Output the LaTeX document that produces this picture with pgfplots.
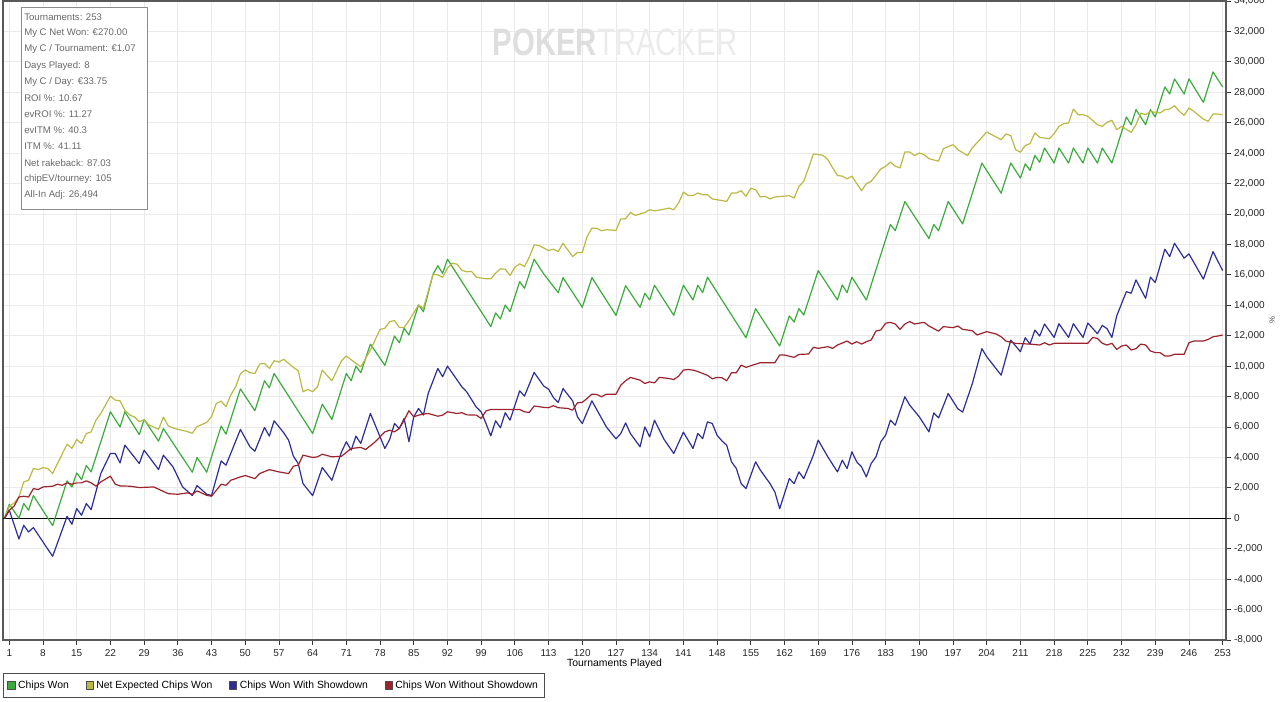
\documentclass[border=0pt]{standalone}
\usepackage{pgfplots}
\pgfplotsset{compat=1.18}
\usepackage{pgfplotstable}
\usepackage{fontspec}
\setmainfont{Liberation Sans}
\definecolor{cG}{RGB}{60,170,60}
\definecolor{cY}{RGB}{185,185,70}
\definecolor{cB}{RGB}{45,45,150}
\definecolor{cR}{RGB}{155,35,45}
\definecolor{gridc}{RGB}{234,234,234}
\definecolor{txtg}{RGB}{105,105,105}

\pgfplotstableread{
t v
0 0
1 0.92
3 0.0
4 0.97
5 0.53
6 1.49
10 -0.48
13 2.46
14 2.06
15 2.98
16 2.55
17 3.47
18 3.05
22 7.0
24 6.0
25 7.0
28 5.5
29 6.5
32 5.07
33 5.9
39 3.03
40 4.0
42 3.03
45 6.06
46 5.53
49 8.5
52 7.07
54 9.04
55 8.58
56 9.52
64 5.57
66 7.5
68 6.5
71 9.52
72 9.04
73 10.0
74 9.57
76 11.45
79 10.05
81 11.98
82 11.54
83 12.49
84 12.05
86 14.02
87 13.58
89 16.04
90 16.6
91 16.1
92 17.03
101 12.6
102 13.5
103 13.1
104 14.02
105 13.58
107 15.56
108 15.12
110 17.03
112 16.06
115 14.83
116 15.82
120 13.87
122 15.82
127 13.34
129 15.29
132 13.87
133 14.79
134 14.35
135 15.32
139 13.34
141 15.32
143 14.35
144 15.32
145 14.83
146 15.85
154 11.87
156 13.78
161 11.32
163 13.3
164 12.9
165 13.78
166 13.36
169 16.28
173 14.35
174 15.34
175 14.83
176 15.85
179 14.35
184 19.31
185 18.9
187 20.82
192 18.39
193 19.31
194 18.9
196 20.82
199 19.35
203 23.35
207 21.37
209 23.35
211 22.36
212 23.3
213 22.87
214 23.85
215 23.4
216 24.34
218 23.35
219 24.34
221 23.35
222 24.34
224 23.35
225 24.34
227 23.35
228 24.34
230 23.35
233 26.38
234 25.87
235 26.86
237 25.87
238 26.86
239 26.38
241 28.35
242 27.89
243 28.88
245 27.89
246 28.88
249 27.34
251 29.34
253 28.35
}\chipsWon

\pgfplotstableread{
t v
0 0
1 0.8
2 1.0
3 1.4
4 2.39
5 2.5
6 3.27
7 3.2
8 3.33
9 3.27
10 2.94
11 3.6
13 4.87
14 4.6
15 5.18
16 4.92
17 5.57
18 5.68
19 6.45
20 6.89
22 8.03
23 7.77
24 7.72
25 7.1
26 6.8
27 6.65
28 6.36
29 6.47
30 6.14
32 5.85
33 6.65
34 6.08
35 5.94
36 5.85
38 5.7
39 5.59
40 6.03
42 6.3
43 6.69
44 7.55
45 7.7
46 7.33
47 8.1
48 8.64
49 9.5
50 9.75
51 9.57
52 9.52
53 10.14
54 10.18
55 9.85
56 10.36
57 10.27
58 10.45
60 9.92
61 9.7
62 8.32
63 8.47
64 8.32
65 8.64
66 9.74
68 9.04
70 10.36
71 10.67
73 10.18
74 9.96
76 11.06
78 12.42
79 12.49
80 12.93
81 12.99
82 12.55
83 12.55
84 12.99
86 14.02
87 13.8
89 16.04
90 16.0
91 15.84
92 16.44
93 16.77
94 16.7
95 16.3
96 16.2
97 16.23
98 15.85
100 15.74
101 15.74
102 16.11
103 16.4
104 16.37
105 15.96
106 16.5
107 16.73
108 16.55
109 17.16
110 17.97
111 17.93
113 17.6
114 17.69
115 17.53
116 18.08
118 17.2
119 17.47
120 17.47
121 18.52
122 19.07
123 19.07
124 18.9
125 18.97
127 18.92
128 19.67
129 19.69
130 20.1
131 19.91
133 20.1
134 20.28
135 20.21
137 20.32
138 20.39
139 20.28
140 20.72
141 21.44
142 21.22
143 21.22
144 21.38
145 21.27
146 21.27
147 20.99
150 20.83
151 21.38
152 21.38
153 21.53
154 21.16
155 21.69
156 21.6
157 21.12
158 21.16
159 20.99
160 21.12
163 21.2
164 21.05
165 21.82
166 22.15
167 23.03
168 23.95
170 23.86
171 23.58
172 23.03
173 22.53
174 22.49
175 22.31
176 22.49
178 21.53
179 21.99
180 22.15
182 22.96
183 23.14
184 23.42
185 23.14
186 23.03
187 24.08
188 24.08
189 23.84
190 24.01
191 23.9
192 23.64
194 23.47
195 24.3
197 24.56
198 24.23
200 23.84
201 24.34
204 25.39
207 24.89
208 25.26
209 25.15
210 24.23
211 24.06
212 24.5
213 24.63
214 25.33
215 25.04
217 24.95
218 25.28
219 25.76
220 25.94
221 25.98
222 26.9
223 26.53
224 26.53
225 26.42
227 25.87
228 25.76
229 26.03
230 26.16
231 25.54
232 25.76
234 25.37
235 25.87
236 26.64
237 26.53
238 26.75
239 26.68
240 26.64
241 26.86
242 26.9
243 27.12
244 26.75
245 26.49
246 26.97
247 26.75
249 26.24
250 26.09
251 26.57
252 26.57
253 26.53
}\netExpected

\pgfplotstableread{
t v
0 0
1 0.53
3 -1.36
4 -0.46
5 -0.9
6 -0.61
8 -1.56
10 -2.5
13 0.13
14 -0.39
15 0.64
16 0.2
17 0.97
18 0.57
20 2.94
22 4.26
23 4.26
24 3.64
25 4.81
28 3.6
29 4.48
32 3.2
33 4.15
35 3.38
37 2.06
39 1.5
40 2.15
42 1.58
43 1.5
45 3.77
46 3.49
49 5.84
51 4.69
52 4.41
54 5.97
55 5.4
56 6.41
58 5.62
59 5.14
60 4.08
61 3.6
62 2.28
64 1.49
66 3.34
68 2.5
70 4.37
71 5.03
72 4.48
73 5.4
74 4.92
76 6.89
79 4.59
80 5.18
81 6.23
82 5.9
83 6.56
84 5.03
85 6.67
86 7.22
87 6.78
88 8.21
90 9.85
91 9.3
92 10.0
95 8.64
96 8.31
98 7.3
99 7.0
100 6.23
101 5.42
102 6.41
103 5.95
104 6.94
105 6.45
107 8.38
108 8.03
110 9.59
112 8.69
113 8.49
114 7.94
115 7.61
116 8.53
118 7.72
119 6.67
120 6.23
122 7.72
125 6.01
127 5.22
128 5.57
129 6.27
130 5.57
132 4.7
133 6.01
134 5.35
135 6.45
137 5.18
139 4.26
141 5.66
143 4.59
144 5.57
145 5.24
146 6.34
147 6.23
148 5.46
149 5.09
150 4.8
151 3.71
152 3.27
153 2.28
154 1.95
156 3.71
157 3.16
159 2.28
160 1.73
161 0.63
163 2.61
164 2.28
165 3.05
166 2.61
168 4.15
169 5.14
171 4.04
173 3.05
174 3.82
175 3.27
176 4.37
177 3.71
178 3.38
179 2.72
180 3.6
181 4.04
182 5.03
183 5.46
184 6.45
185 6.12
187 7.99
188 7.44
190 6.67
192 5.68
193 6.93
194 6.6
196 8.2
198 7.2
199 6.98
201 8.84
203 11.15
204 10.62
207 9.41
209 11.71
211 10.95
212 11.87
213 11.45
214 12.37
215 11.98
216 12.77
218 11.89
219 12.79
221 11.89
222 12.79
224 11.89
225 12.84
227 12.13
228 12.68
229 12.46
230 11.89
231 13.3
233 14.9
234 14.79
235 15.67
237 14.46
238 15.85
239 15.5
241 17.69
242 17.2
243 18.08
245 17.1
246 17.38
249 15.72
251 17.53
253 16.28
}\withSD

\pgfplotstableread{
t v
0 0
1 0.53
2 0.8
3 1.4
4 1.45
5 1.4
6 1.95
7 1.89
8 2.06
10 2.11
11 2.24
12 2.17
13 2.33
14 2.24
15 2.33
16 2.33
17 2.46
18 2.33
19 2.11
20 2.39
22 2.77
23 2.24
24 2.13
26 2.11
28 2.02
31 2.06
34 1.62
36 1.58
38 1.67
39 1.58
40 1.8
42 1.51
43 1.45
45 2.24
46 2.17
47 2.5
49 2.72
50 2.81
52 2.61
53 2.94
55 3.2
57 3.05
59 2.94
60 3.42
61 3.49
62 4.15
64 4.0
65 4.04
66 4.21
68 4.04
70 4.08
72 4.59
74 4.66
75 4.52
77 5.03
79 5.68
80 5.79
81 5.68
82 5.9
83 6.45
84 7.07
85 6.67
86 6.78
87 6.85
88 6.89
90 6.71
91 6.78
92 7.0
94 6.89
95 6.94
96 6.8
98 6.78
99 6.56
100 7.06
101 7.15
107 7.15
108 7.0
109 6.96
110 7.38
112 7.29
113 7.27
114 7.4
115 7.27
117 7.22
118 7.11
119 7.59
120 7.62
121 7.88
122 8.16
123 8.14
124 7.99
125 8.16
127 8.16
128 8.75
129 9.04
130 9.26
132 9.08
133 8.86
134 8.97
135 8.9
136 9.26
138 9.19
139 9.12
140 9.34
141 9.74
142 9.78
143 9.74
144 9.65
145 9.52
146 9.4
147 9.17
148 9.26
149 9.24
150 9.04
151 9.57
152 9.57
153 10.07
154 9.92
155 10.03
157 10.23
160 10.23
161 10.73
162 10.73
164 10.58
165 10.77
167 10.8
168 11.24
169 11.17
171 11.28
172 11.17
173 11.39
175 11.65
176 11.45
177 11.61
178 11.45
179 11.61
180 11.72
181 12.31
182 12.38
183 12.82
184 12.88
185 12.77
186 12.42
187 12.77
188 12.93
189 12.77
191 12.88
192 12.64
194 12.3
195 12.6
197 12.53
198 12.64
199 12.42
201 12.33
202 12.05
204 12.27
206 12.11
207 11.93
208 11.65
210 11.5
213 11.45
215 11.39
216 11.54
217 11.39
218 11.5
225 11.5
226 11.89
227 11.82
228 11.5
229 11.39
230 11.5
231 11.1
232 11.32
233 11.39
234 11.06
235 11.15
236 11.45
237 11.39
238 11.0
239 10.89
240 10.89
241 10.67
242 10.67
243 10.78
245 10.78
246 11.54
247 11.65
249 11.65
250 11.76
251 11.93
252 11.98
253 12.05
}\withoutSD

\begin{document}
\begin{tikzpicture}
\useasboundingbox (0pt,0pt) rectangle (960pt,-525.75pt);
\begin{axis}[
  at={(2.25pt,-480pt)}, anchor=south west,
  scale only axis, width=917.25pt, height=479.25pt,
  xmin=-0.31, xmax=253.7, ymin=-8, ymax=34,
  xtick={1,8,...,253},
  ytick={-8,-6,...,34},
  yticklabels={{-8,000},{-6,000},{-4,000},{-2,000},{0},{2,000},{4,000},{6,000},{8,000},{10,000},{12,000},{14,000},{16,000},{18,000},{20,000},{22,000},{24,000},{26,000},{28,000},{30,000},{32,000},{34,000}},
  grid=major,
  major grid style={draw=gridc, line width=0.6pt},
  tick align=outside,
  xtick pos=lower, ytick pos=right, yticklabel pos=right,
  major tick length=3.5pt,
  axis line style={draw=black!65, line width=0.8pt},
  tick style={draw=black!80, line width=0.6pt},
  ticklabel style={font=\fontsize{7.5}{9}\selectfont, text=black!85},
  yticklabel style={xshift=-1pt},
  /pgf/number format/assume math mode=true,
  xlabel={Tournaments Played},
  xlabel style={font=\fontsize{7.8}{9}\selectfont, at={(axis description cs:0.5,-0.0376)}, anchor=center},
  legend columns=4,
  legend style={at={(axis description cs:0,-0.0516)}, anchor=north west,
    draw=black!70, line width=0.6pt, font=\fontsize{7.8}{9}\selectfont,
    inner xsep=3pt, inner ysep=3.5pt,
    /tikz/every even column/.append style={column sep=10.5pt}},
  legend cell align=left,
  every axis plot/.append style={line width=0.9pt, line join=round},
]
\addplot[black, line width=0.8pt, forget plot] coordinates {(-1,0) (255,0)};
\addplot[cG, legend image code/.code={\draw[draw=black!70,fill=cG,line width=0.5pt] (0pt,-2.8pt) rectangle (5.6pt,2.8pt);}] table[x=t,y=v] {\chipsWon};
\addlegendentry{Chips Won}
\addplot[cY, legend image code/.code={\draw[draw=black!70,fill=cY,line width=0.5pt] (0pt,-2.8pt) rectangle (5.6pt,2.8pt);}] table[x=t,y=v] {\netExpected};
\addlegendentry{Net Expected Chips Won}
\addplot[cB, legend image code/.code={\draw[draw=black!70,fill=cB,line width=0.5pt] (0pt,-2.8pt) rectangle (5.6pt,2.8pt);}] table[x=t,y=v] {\withSD};
\addlegendentry{Chips Won With Showdown}
\addplot[cR, legend image code/.code={\draw[draw=black!70,fill=cR,line width=0.5pt] (0pt,-2.8pt) rectangle (5.6pt,2.8pt);}] table[x=t,y=v] {\withoutSD};
\addlegendentry{Chips Won Without Showdown}
\end{axis}
\begin{scope}[x=0.75pt,y=-0.75pt]
\node[anchor=center, inner sep=0pt, yscale=1.3] at (615,42) {\fontsize{22}{24}\selectfont\textcolor{black!13}{\textbf{POKER}}\textcolor{black!8}{TRACKER}};
\draw[draw=black!45, fill=white, line width=0.6pt] (21,7) rectangle (147,209);
\foreach \s [count=\i from 0] in {{Tournaments: 253},{My C Net Won: €270.00},{My C / Tournament: €1.07},{Days Played: 8},{My C / Day: €33.75},{ROI \%: 10.67},{evROI \%: 11.27},{evITM \%: 40.3},{ITM \%: 41.11},{Net rakeback: 87.03},{chipEV/tourney: 105},{All-In Adj: 26,494}}
  \node[anchor=west, inner sep=0pt, text=txtg, font=\fontsize{7.2}{8}\selectfont] at (24,{17+16.18*\i}) {\s};
\node[rotate=-90, inner sep=0pt, font=\fontsize{6}{7}\selectfont, text=black!70] at (1272,320) {\%};
\end{scope}
\end{tikzpicture}
\end{document}
